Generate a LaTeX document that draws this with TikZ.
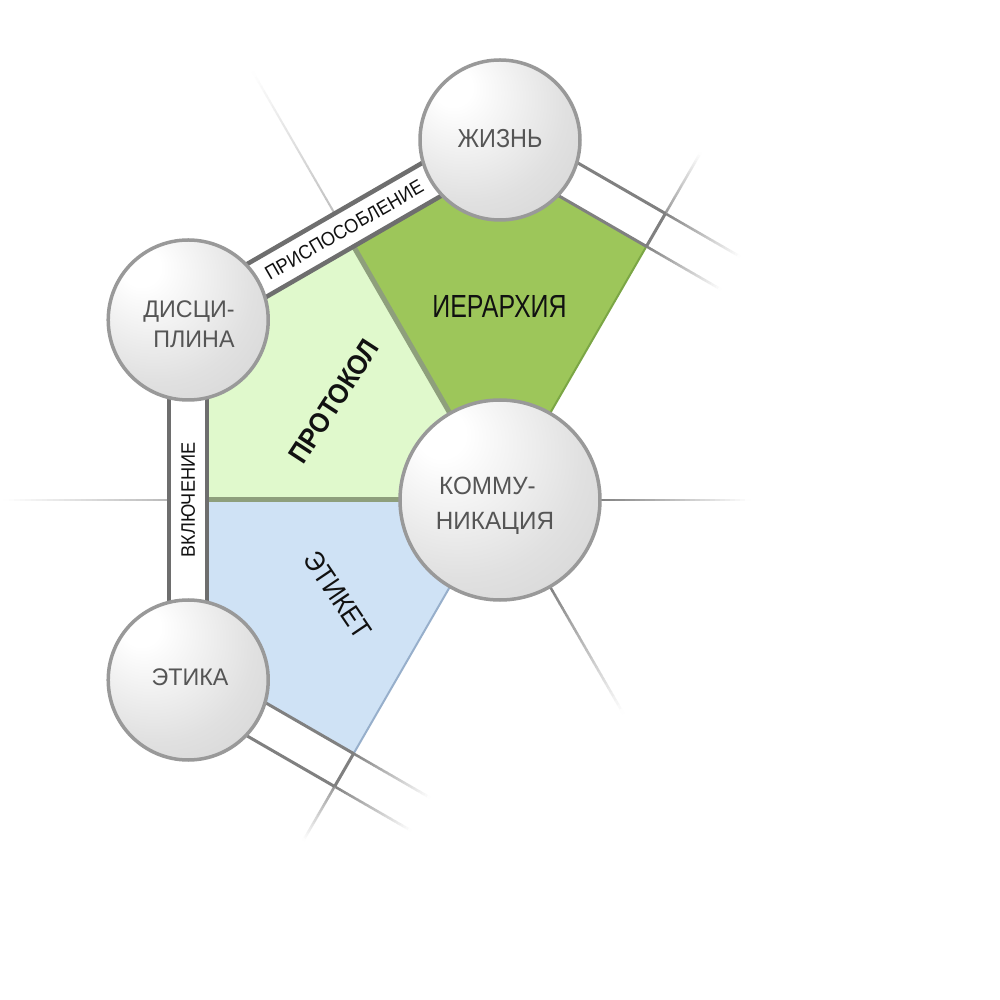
\documentclass[tikz,border=0pt]{standalone}
\usepackage{fontspec}
\usetikzlibrary{calc}
\newfontfamily\lab{Liberation Sans}[FakeStretch=0.9]
\newfontfamily\labwide{Liberation Sans}[FakeStretch=0.97]
\newfontfamily\labband{Liberation Sans}[FakeStretch=0.93]
\newfontfamily\labcond{Liberation Sans}[FakeStretch=0.78]
\definecolor{dkgreen}{HTML}{9DC65A}
\definecolor{ltgreen}{HTML}{E0F9CC}
\definecolor{ltblue}{HTML}{CFE2F5}
\definecolor{sepgreen}{HTML}{8E9F7C}
\definecolor{edgegreen}{HTML}{7BA645}
\definecolor{edgeblue}{HTML}{97AFCB}
\definecolor{bandgray}{HTML}{6E6E6E}
\definecolor{linegray}{HTML}{808080}
\definecolor{circborder}{HTML}{999999}
\definecolor{labtext}{HTML}{555555}
\definecolor{darktext}{HTML}{111111}
\pgfdeclareradialshading{spherebg}{\pgfpoint{-16bp}{18bp}}{color(0bp)=(white); color(6bp)=(white); color(30bp)=(white!88!black); color(55bp)=(white!80!black); color(75bp)=(white!76!black)}
\newcommand{\fadeseg}[4]{%
  \foreach \i in {0,...,29}{%
    \pgfmathsetmacro{\ta}{\i/30}%
    \pgfmathsetmacro{\tb}{(\i+1)/30+0.004}%
    \pgfmathtruncatemacro{\pc}{100*(1-(\i+0.5)/30)}%
    \draw[line width=#4, color=#3!\pc!white] ($(#1)!\ta!(#2)$) -- ($(#1)!\tb!(#2)$);
  }}
\tikzset{
  orb/.style={circle, draw=circborder, line width=3.5pt, shade, shading=spherebg, inner sep=0pt, minimum size=#1},
  orbtext/.style={font=\labwide\fontsize{24}{28}\selectfont, text=labtext, inner sep=0pt, anchor=base},
  bandline/.style={draw=bandgray, line width=4.5pt},
  bandtext/.style={font=\labband\fontsize{19.5}{22}\selectfont, text=darktext, inner sep=0pt},
  sectext/.style={font=\lab\fontsize{28}{32}\selectfont, text=darktext, inner sep=0pt},
}
\begin{document}
\begin{tikzpicture}[x=1pt,y=1pt]
\useasboundingbox (-500,-500) rectangle (500,500);
\fill[white] (-500,-500) rectangle (500,500);
% coordinates
\coordinate (O) at (0,0);
\coordinate (Z) at (90:360);
\coordinate (D) at (150:360);
\coordinate (E) at (210:360);
\foreach \a in {60,120,180,240}{
  \coordinate (P\a) at (\a:292.8);
  \coordinate (Q\a) at (\a:330.8);
}
\coordinate (Zi) at ($(Z)+(270:21.9)$);
\coordinate (Di) at ($(D)+(330:21.9)$);
\coordinate (Ei) at ($(E)+(30:21.9)$);
\coordinate (DZo1) at ($(D)+(120:19)$);
\coordinate (DZo2) at ($(Z)+(120:19)$);
\coordinate (DZi1) at ($(D)+(300:19)$);
\coordinate (DZi2) at ($(Z)+(300:19)$);
\coordinate (DEo1) at ($(D)+(180:19)$);
\coordinate (DEo2) at ($(E)+(180:19)$);
\coordinate (DEi1) at ($(D)+(0:19)$);
\coordinate (DEi2) at ($(E)+(0:19)$);
\coordinate (ZRo) at ($(Z)+(60:19)$);
\coordinate (ELo) at ($(E)+(240:19)$);
\coordinate (Q60f) at ($(Q60)+(330:86)$);
\coordinate (P60f) at ($(P60)+(330:86)$);
\coordinate (S60f) at ($(Q60)+(60:70)$);
\coordinate (S120f) at ($(Q120)+(120:163)$);
\coordinate (S180f) at ($(Q180)+(180:166)$);
\coordinate (Q240f) at ($(Q240)+(330:88)$);
\coordinate (P240f) at ($(P240)+(330:88)$);
\coordinate (S240f) at ($(Q240)+(240:62)$);
\coordinate (S0a) at (0:100);
\coordinate (S0f) at (0:250);
\coordinate (S300a) at (300:100);
\coordinate (S300f) at (300:246);
% sectors
\fill[dkgreen] (O) -- (P60) -- (Zi) -- (P120) -- cycle;
\fill[ltgreen] (O) -- (P120) -- (Di) -- (P180) -- cycle;
\fill[ltblue] (O) -- (P180) -- (Ei) -- (P240) -- cycle;
\draw[sepgreen, line width=5pt] (O) -- (P120);
\draw[sepgreen, line width=5pt] (O) -- (P180);
\draw[edgegreen, line width=2pt] (O) -- (P60);
\draw[edgeblue, line width=2pt] (O) -- (P240);
% fading lines
\fadeseg{Q60}{Q60f}{linegray}{2.5pt}
\fadeseg{P60}{P60f}{linegray}{2.5pt}
\fadeseg{Q60}{S60f}{linegray!80!white}{2.5pt}
\fadeseg{Q120}{S120f}{linegray!50!white}{2pt}
\fadeseg{Q180}{S180f}{linegray!55!white}{2pt}
\fadeseg{Q240}{Q240f}{linegray}{2.5pt}
\fadeseg{P240}{P240f}{linegray}{2.5pt}
\fadeseg{Q240}{S240f}{linegray!80!white}{2.5pt}
\fadeseg{S0a}{S0f}{linegray}{2.5pt}
\fadeseg{S300a}{S300f}{linegray}{2.5pt}
% open bands
\draw[linegray, line width=3pt] (Zi) -- (P60) (ZRo) -- (Q60) (P60) -- (Q60);
\draw[linegray, line width=3pt] (Ei) -- (P240) (ELo) -- (Q240) (P240) -- (Q240);
% labelled bands
\fill[white] (DZo1) -- (DZo2) -- (DZi2) -- (DZi1) -- cycle;
\draw[bandline] (DZo1) -- (DZo2) (DZi1) -- (DZi2);
\fill[white] (DEo1) -- (DEo2) -- (DEi2) -- (DEi1) -- cycle;
\draw[bandline] (DEo1) -- (DEo2) (DEi1) -- (DEi2);
% circles
\node[orb=160pt] (zh) at (Z) {};
\node[orb=160pt] (di) at (D) {};
\node[orb=160pt] (et) at (E) {};
\node[orb=200pt] (ko) at (O) {};
% texts
\node[orbtext, font=\lab\fontsize{26}{30}\selectfont] (tzh) at (0,352) {ЖИЗНЬ};
\node[orbtext] (tdi1) at (-311,182) {ДИСЦИ-};
\node[orbtext] (tdi2) at (-306,152) {ПЛИНА};
\node[orbtext, font=\labwide\fontsize{25}{29}\selectfont] (tko1) at (-12.5,5) {КОММУ-};
\node[orbtext, font=\labwide\fontsize{25}{29}\selectfont] (tko2) at (-5,-30) {НИКАЦИЯ};
\node[orbtext] (tet) at (-310,-185) {ЭТИКА};
\node[sectext, font=\labcond\fontsize{32}{36}\selectfont, anchor=base] (tier) at (-0.5,182) {ИЕРАРХИЯ};
\node[sectext, font=\lab\bfseries\fontsize{28}{32}\selectfont, rotate=57] (tpr) at (-166,99) {ПРОТОКОЛ};
\node[sectext, rotate=-56] (tek) at (-162,-95) {ЭТИКЕТ};
\node[bandtext, rotate=30] (tpri) at (120:311.8) {ПРИСПОСОБЛЕНИЕ};
\node[bandtext, rotate=90] (tvkl) at (180:311.8) {ВКЛЮЧЕНИЕ};
\end{tikzpicture}
\end{document}
